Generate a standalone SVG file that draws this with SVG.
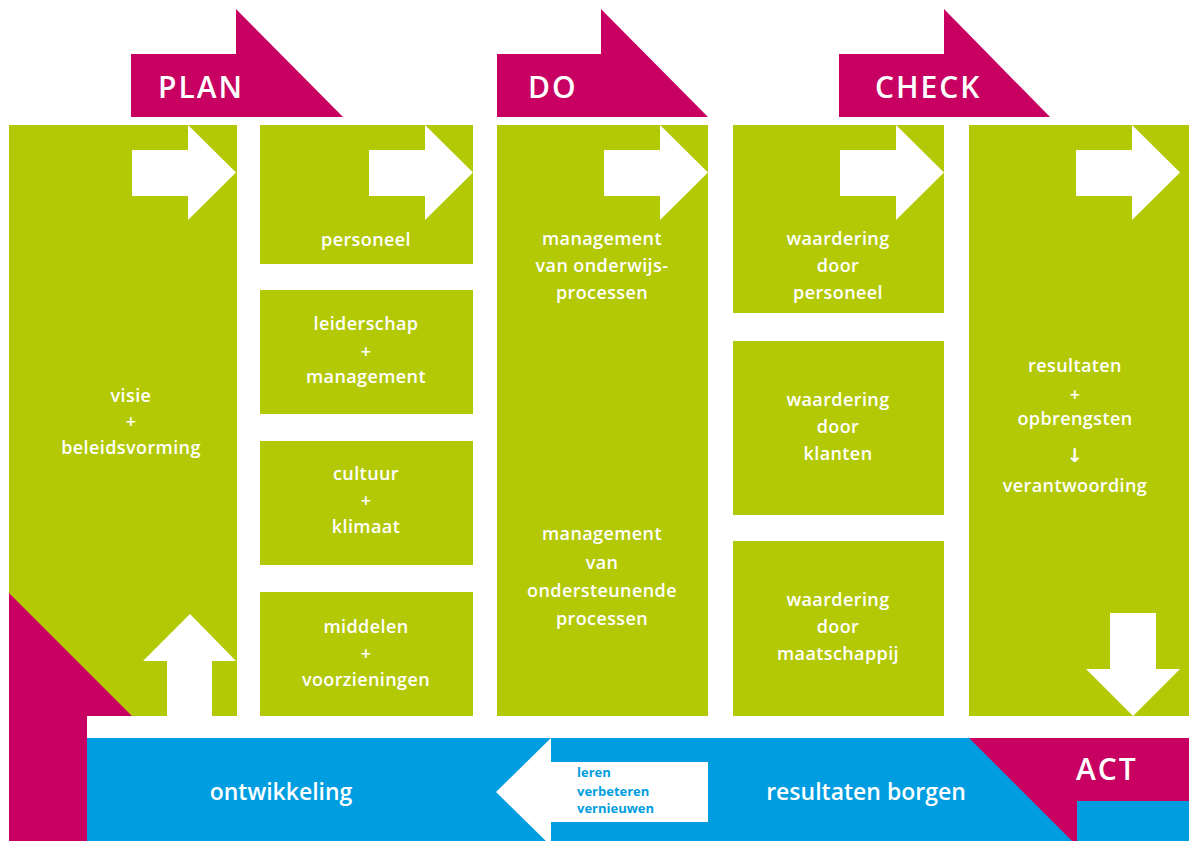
<svg xmlns="http://www.w3.org/2000/svg" width="1189" height="841" viewBox="0 0 1189 841">
<style>
.g{fill:#B3C905}
.m{fill:#C70062}
.b{fill:#009EE0}
.w{fill:#FFFFFF}
.t{font-family:"Open Sans","Liberation Sans",sans-serif;font-weight:600;font-size:18px;fill:#FFFFFF;text-anchor:middle;letter-spacing:0.4px}
.h{font-family:"Open Sans","Liberation Sans",sans-serif;font-weight:600;font-size:30px;fill:#FFFFFF;letter-spacing:2px}
.big{font-family:"Open Sans","Liberation Sans",sans-serif;font-weight:600;font-size:23px;fill:#FFFFFF;text-anchor:middle}
.s{font-family:"Open Sans","Liberation Sans",sans-serif;font-weight:700;font-size:13px;fill:#009EE0}
</style>
<defs>
<path id="ra" d="M-104,150 H-48 V125 L0,172.5 L-48,220 V196 H-104 Z" fill="#FFFFFF"/>
</defs>
<rect width="1189" height="841" fill="#FFFFFF"/>

<g id="plan">
<polygon class="m" points="131,54 236,54 236,9 343,117 131,117"/>
<text class="h" x="158" y="98">PLAN</text>
</g>
<g id="do">
<polygon class="m" points="497,54 601,54 601,9 708,117 497,117"/>
<text class="h" x="528" y="98">DO</text>
</g>
<g id="check">
<polygon class="m" points="839,54 944,54 944,9 1050,117 839,117"/>
<text class="h" x="875" y="98">CHECK</text>
</g>

<g id="visie">
<rect class="g" x="9" y="125" width="228" height="591"/>
<polygon class="m" points="9,593 132,716 87,716 87,841 9,841"/>
<text class="t" x="131" y="402">visie</text>
<text class="t" x="131" y="428">+</text>
<text class="t" x="131" y="454">beleidsvorming</text>
</g>

<g id="personeel">
<rect class="g" x="260" y="125" width="213" height="139"/>
<text class="t" x="366" y="246">personeel</text>
</g>
<g id="leiderschap">
<rect class="g" x="260" y="290" width="213" height="124"/>
<text class="t" x="366" y="330">leiderschap</text>
<text class="t" x="366" y="358">+</text>
<text class="t" x="366" y="383">management</text>
</g>
<g id="cultuur">
<rect class="g" x="260" y="441" width="213" height="124"/>
<text class="t" x="366" y="480">cultuur</text>
<text class="t" x="366" y="507">+</text>
<text class="t" x="366" y="533">klimaat</text>
</g>
<g id="middelen">
<rect class="g" x="260" y="592" width="213" height="124"/>
<text class="t" x="366" y="633">middelen</text>
<text class="t" x="366" y="660">+</text>
<text class="t" x="366" y="686">voorzieningen</text>
</g>

<g id="management">
<rect class="g" x="497" y="125" width="211" height="591"/>
<text class="t" x="602" y="245">management</text>
<text class="t" x="602" y="272">van onderwijs-</text>
<text class="t" x="602" y="299">processen</text>
<text class="t" x="602" y="540">management</text>
<text class="t" x="602" y="569">van</text>
<text class="t" x="602" y="597">ondersteunende</text>
<text class="t" x="602" y="625">processen</text>
</g>

<g id="waardering-personeel">
<rect class="g" x="733" y="125" width="211" height="188"/>
<text class="t" x="838" y="245">waardering</text>
<text class="t" x="838" y="272">door</text>
<text class="t" x="838" y="299">personeel</text>
</g>
<g id="waardering-klanten">
<rect class="g" x="733" y="341" width="211" height="174"/>
<text class="t" x="838" y="406">waardering</text>
<text class="t" x="838" y="433">door</text>
<text class="t" x="838" y="460">klanten</text>
</g>
<g id="waardering-maatschappij">
<rect class="g" x="733" y="541" width="211" height="175"/>
<text class="t" x="838" y="606">waardering</text>
<text class="t" x="838" y="633">door</text>
<text class="t" x="838" y="660">maatschappij</text>
</g>

<g id="resultaten">
<rect class="g" x="969" y="125" width="220" height="591"/>
<text class="t" x="1075" y="372">resultaten</text>
<text class="t" x="1075" y="401">+</text>
<text class="t" x="1075" y="425">opbrengsten</text>
<text class="t" x="1075" y="462" style="font-family:'DejaVu Sans',sans-serif;font-size:19px">↓</text>
<text class="t" x="1075" y="492">verantwoording</text>
</g>

<g id="act-band">
<rect class="b" x="87" y="738" width="1102" height="103"/>
<polygon class="m" points="969,738 1189,738 1189,801 1077,801 1077,841 1072,841"/>
<text class="h" x="1076" y="780">ACT</text>
<text class="big" x="281" y="800">ontwikkeling</text>
<text class="big" x="866" y="800">resultaten borgen</text>
</g>

<g id="connectors">
<use href="#ra" x="236"/>
<use href="#ra" x="473"/>
<use href="#ra" x="708"/>
<use href="#ra" x="944"/>
<use href="#ra" x="1180"/>
<polygon class="w" points="167,716 167,661 143,661 190,614 236,661 212,661 212,716"/>
<polygon class="w" points="1110,613 1156,613 1156,669 1180,669 1133,716 1086,669 1110,669"/>
<polygon class="w" points="496,792 551,738 551,762 708,762 708,822 551,822 551,846"/>
<text class="s" x="577" y="777">leren</text>
<text class="s" x="577" y="796">verbeteren</text>
<text class="s" x="577" y="813">vernieuwen</text>
</g>
</svg>
